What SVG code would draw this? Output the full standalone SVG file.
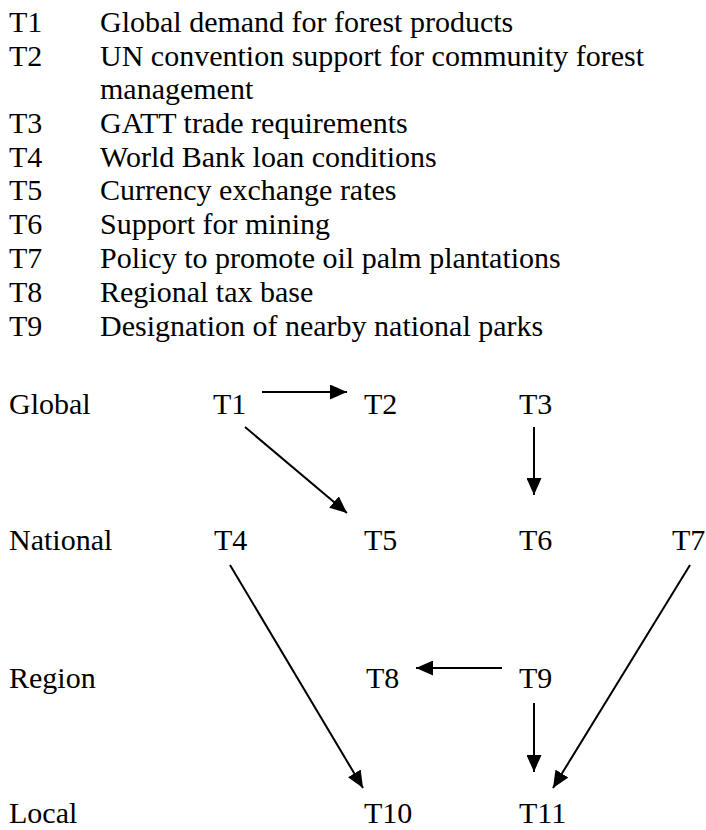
<svg xmlns="http://www.w3.org/2000/svg" width="706" height="830" viewBox="0 0 706 830">
<style>
text{font-family:"Liberation Serif","Times New Roman",serif;font-size:30px;fill:#000}
.c line{stroke:#000;stroke-width:2;marker-end:url(#ah)}
</style>
<defs>
<marker id="ah" viewBox="0 0 10 10" refX="10" refY="5" markerWidth="8.5" markerHeight="7.5" markerUnits="strokeWidth" orient="auto" preserveAspectRatio="none">
<path d="M0,0 L10,5 L0,10 z" fill="#000"/>
</marker>
</defs>
<rect width="706" height="830" fill="#fff"/>
<g id="legend">
<text x="9" y="32">T1</text><text x="100" y="32">Global demand for forest products</text>
<text x="9" y="66">T2</text><text x="100" y="66">UN convention support for community forest</text>
<text x="100" y="99">management</text>
<text x="9" y="133">T3</text><text x="100" y="133">GATT trade requirements</text>
<text x="9" y="167">T4</text><text x="100" y="167">World Bank loan conditions</text>
<text x="9" y="200">T5</text><text x="100" y="200">Currency exchange rates</text>
<text x="9" y="234">T6</text><text x="100" y="234">Support for mining</text>
<text x="9" y="268">T7</text><text x="100" y="268">Policy to promote oil palm plantations</text>
<text x="9" y="302">T8</text><text x="100" y="302">Regional tax base</text>
<text x="9" y="336">T9</text><text x="100" y="336">Designation of nearby national parks</text>
</g>
<g id="levels">
<text x="9" y="414">Global</text>
<text x="9" y="550">National</text>
<text x="9" y="688">Region</text>
<text x="9" y="823">Local</text>
</g>
<g id="T1"><text x="213" y="414">T1</text></g>
<g id="T2"><text x="364" y="414">T2</text></g>
<g id="T3"><text x="519" y="414">T3</text></g>
<g id="T4"><text x="214" y="550">T4</text></g>
<g id="T5"><text x="364" y="550">T5</text></g>
<g id="T6"><text x="519" y="550">T6</text></g>
<g id="T7"><text x="672" y="550">T7</text></g>
<g id="T8"><text x="366" y="688">T8</text></g>
<g id="T9"><text x="519" y="688">T9</text></g>
<g id="T10"><text x="364" y="823">T10</text></g>
<g id="T11"><text x="519" y="823">T11</text></g>
<g class="c" id="connectors">
<line x1="262" y1="392" x2="347" y2="392"/>
<line x1="245" y1="427" x2="347" y2="513"/>
<line x1="534" y1="427" x2="534" y2="495"/>
<line x1="230" y1="565" x2="363" y2="788"/>
<line x1="690" y1="565" x2="553" y2="788"/>
<line x1="502" y1="668" x2="416" y2="668"/>
<line x1="534" y1="703" x2="534" y2="772"/>
</g>
</svg>
